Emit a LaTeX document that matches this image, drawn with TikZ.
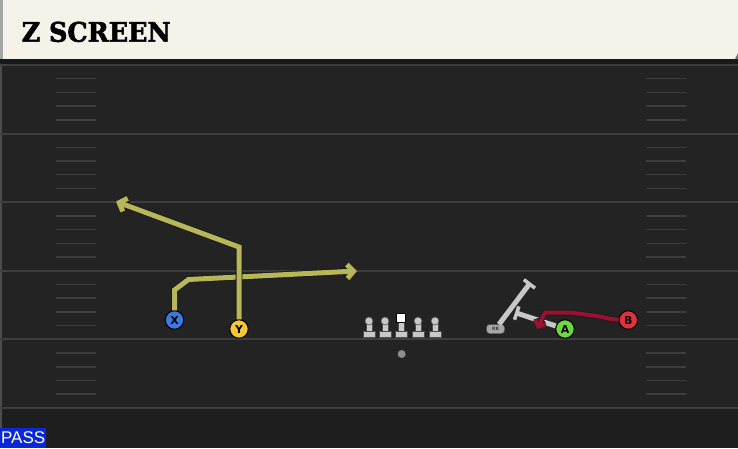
\documentclass[tikz,border=0pt]{standalone}
\usepackage{fontspec}
\usepackage{graphicx}
\setmainfont{DejaVu Sans}
\newfontfamily\titlefont{DejaVu Serif Condensed}[BoldFeatures={FakeBold=2}]
\newfontfamily\passfont{Liberation Sans}
\usetikzlibrary{arrows.meta, positioning}

\definecolor{fieldgray}{RGB}{35,35,35}
\definecolor{endgray}{RGB}{30,30,30}
\definecolor{linegray}{RGB}{62,62,62}
\definecolor{headercream}{RGB}{245,242,234}
\definecolor{routeolive}{RGB}{184,183,88}
\definecolor{blockgray}{RGB}{200,200,200}
\definecolor{blitzred}{RGB}{155,18,48}
\definecolor{xblue}{RGB}{60,120,225}
\definecolor{yyellow}{RGB}{245,200,50}
\definecolor{agreen}{RGB}{110,215,60}
\definecolor{bred}{RGB}{225,50,60}
\definecolor{passblue}{RGB}{10,40,215}

\begin{document}
\begin{tikzpicture}[x=1pt, y=-1pt,
        player/.style={circle, draw=black, line width=1pt, minimum size=18.5pt, inner sep=0pt, font=\bfseries\fontsize{11}{11}\selectfont},
        route/.style={routeolive, line width=5pt, -{Straight Barb[length=6.5pt, width=14pt]},
            preaction={draw=black!90, line width=6.8pt, -{Straight Barb[length=6.5pt, width=14pt]}}},
        blitz/.style={blitzred, line width=4pt, -{Straight Barb[length=5pt, width=11pt]},
            preaction={draw=black!90, line width=5.4pt, -{Straight Barb[length=5pt, width=11pt]}}},
        block/.style={blockgray, line width=5pt, -{Bar[width=14pt, line width=3.5pt]}},
        yardline/.style={linegray, line width=2pt},
        hashmark/.style={linegray, line width=1.5pt},
        lineman/.style={fill=blockgray, draw=black!70, line width=0.6pt}
    ]
        % Field
        \useasboundingbox (0,0) rectangle (738,448);
        \fill[fieldgray] (0,59) rectangle (738,448);
        \fill[endgray] (0,408) rectangle (738,448);
        \fill[black!70] (0,59) rectangle (2,448);
        \foreach \k in {0,...,5}
            \draw[yardline] (0,{65+68.6*\k}) -- (738,{65+68.6*\k});
        \foreach \k in {0,...,4}
            \foreach \j in {1,...,4} {
                \draw[hashmark] (56,{65+68.6*\k+13.7*\j}) -- (96,{65+68.6*\k+13.7*\j});
                \draw[hashmark] (646,{65+68.6*\k+13.7*\j}) -- (686,{65+68.6*\k+13.7*\j});
            }

        % Header
        \fill[black!90] (0,59) rectangle (738,64);
        \fill[headercream] (3,0) rectangle (738,59);
        \fill[black!35] (0,0) rectangle (3,59);
        \fill[black!55] (738,53) -- (738,59) -- (735,59) -- cycle;
        \node[anchor=base west, inner sep=0pt] (title) at (21.5,41.7)
            {\resizebox{149pt}{20pt}{\titlefont\bfseries Z SCREEN}};

        % Line
        \foreach \x in {369,385,418,435} {
            \fill[lineman] (\x-2.8,322) rectangle (\x+2.8,332);
            \fill[lineman] (\x-6,331.5) rectangle (\x+6,337.5);
            \fill[lineman] (\x,321) circle (4);
        }
        \fill[lineman] (398.2,321) rectangle (403.8,332);
        \fill[lineman] (395,331.5) rectangle (407,337.5);
        \node[draw=black, fill=white, minimum size=9pt, inner sep=0pt] (center) at (401,318) {};
        \node[circle, fill=black!45, minimum size=8pt, inner sep=0pt] (qb) at (401.7,354) {};

        % Players
        \node[player, fill=xblue] (X) at (174.5,320) {X};
        \node[player, fill=yyellow] (Y) at (239,329) {Y};
        \node[player, fill=agreen] (A) at (565,329) {A};
        \node[player, fill=bred] (B) at (628.3,320) {B};
        \node[draw=black!70, fill=black!35, rounded corners=3pt, minimum width=18pt, minimum height=9pt, inner sep=0pt,
            font=\bfseries\fontsize{4.5}{4.5}\selectfont, text=black!75] (rb) at (495.5,329) {RB};

        % Routes
        \coordinate (xstem) at (174.5,290);
        \coordinate (xbend) at (188.5,279.5);
        \coordinate (xend) at (357,271);
        \coordinate (ybend) at (239,247);
        \coordinate (yend) at (116,201.5);
        \draw[route] (X) -- (xstem) -- (xbend) -- (xend);
        \draw[route] (Y) -- (ybend) -- (yend);

        % Blocks
        \coordinate (rbblock) at (530.5,282.5);
        \coordinate (ablock) at (515,312.5);
        \draw[block] (rb) -- (rbblock);
        \draw[block] (A) -- (ablock);

        % Blitz
        \coordinate (btip) at (537,329);
        \draw[blitz] (B) to[out=178, in=-5] (590,315) to[out=175, in=0] (566,312.5) -- (545,312.5) -- (btip);

        % Play type
        \node[fill=passblue, text=white, anchor=south west, inner sep=0pt, minimum width=46pt, minimum height=20pt,
            font=\passfont\fontsize{17}{17}\selectfont] (play) at (0,448) {PASS};
    \end{tikzpicture}
\end{document}
